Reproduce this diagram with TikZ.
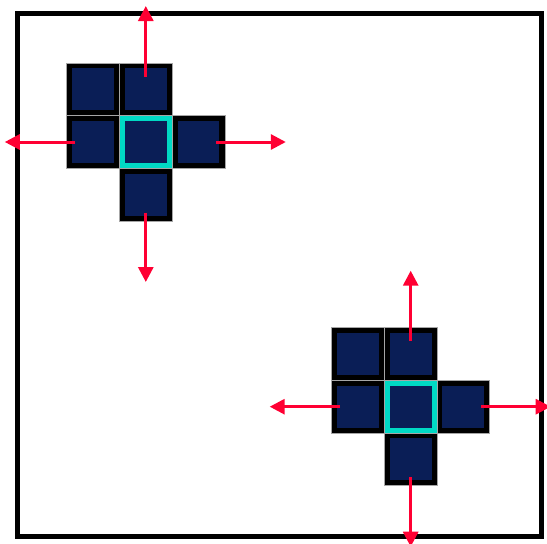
\documentclass[tikz,border=0pt]{standalone}
\usetikzlibrary{arrows.meta}
\definecolor{cellnavy}{HTML}{0A1E56}
\definecolor{ringcyan}{HTML}{00D9C4}
\definecolor{arrowred}{HTML}{FF0033}
\tikzset{
  cellbox/.style={rectangle, minimum size=52.7pt, inner sep=0pt, draw=black!35, line width=0.6pt, fill=black,
    path picture={\fill[cellnavy] ([shift={(5.4pt,5.4pt)}]path picture bounding box.south west) rectangle ([shift={(-5.4pt,-5.4pt)}]path picture bounding box.north east);}},
  centerbox/.style={cellbox, fill=ringcyan},
  movearrow/.style={draw=arrowred, line width=3pt, -{Triangle[length=15pt,width=15pt]}},
  frame/.style={draw=black, line width=5pt}
}
\newcommand{\drawcluster}[3]{%
  \begin{scope}[shift={(#2,#3)}]
    \node[cellbox] (#1nw) at (-52.7,-52.7) {};
    \node[cellbox] (#1n) at (0,-52.7) {};
    \node[cellbox] (#1w) at (-52.7,0) {};
    \node[centerbox] (#1c) at (0,0) {};
    \node[cellbox] (#1e) at (52.7,0) {};
    \node[cellbox] (#1s) at (0,52.7) {};
    \coordinate (#1us) at (0,-65.5);
    \coordinate (#1ut) at (0,-136);
    \coordinate (#1ls) at (-70.5,0);
    \coordinate (#1lt) at (-141,0);
    \coordinate (#1rs) at (70.5,0);
    \coordinate (#1rt) at (140,0);
    \coordinate (#1ds) at (0,70.5);
    \coordinate (#1dt) at (0,140);
    \draw[movearrow] (#1us) -- (#1ut);
    \draw[movearrow] (#1ls) -- (#1lt);
    \draw[movearrow] (#1rs) -- (#1rt);
    \draw[movearrow] (#1ds) -- (#1dt);
  \end{scope}}
\begin{document}
\begin{tikzpicture}[x=1pt,y=-1pt]
  \useasboundingbox (0,0) rectangle (547,544);
  \clip (0,0) rectangle (547,544);
  \fill[white] (0,0) rectangle (547,544);
  \coordinate (fnw) at (17.5,13.5);
  \coordinate (fse) at (541,536.5);
  \draw[frame] (fnw) rectangle (fse);
  \drawcluster{a}{145.8}{142}
  \drawcluster{b}{410.7}{406.7}
\end{tikzpicture}
\end{document}
